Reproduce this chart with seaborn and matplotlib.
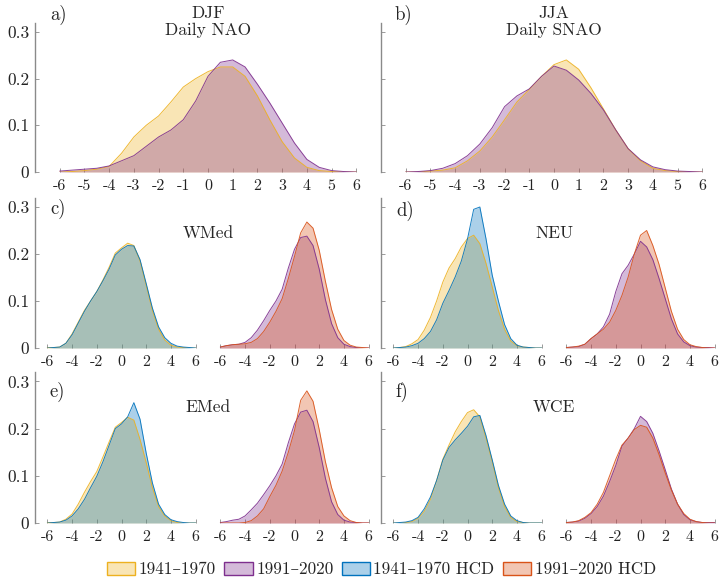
import matplotlib
matplotlib.use("Agg")
import matplotlib.pyplot as plt
import matplotlib.patches as mpatches
from matplotlib.colors import to_rgba
import seaborn as sns

sns.set_theme(style="white")
plt.rcParams["font.family"] = ["cmr10", "DejaVu Serif"]
plt.rcParams["mathtext.fontset"] = "cm"
plt.rcParams["axes.unicode_minus"] = False

# density at x = -6 ... 6 (step 0.5)
grid = [-6, -5.5, -5, -4.5, -4, -3.5, -3, -2.5, -2, -1.5, -1, -0.5, 0,
        0.5, 1, 1.5, 2, 2.5, 3, 3.5, 4, 4.5, 5, 5.5, 6]

# a) DJF daily NAO
nao_early = [0, 0.001, 0.003, 0.006, 0.012, 0.04, 0.075, 0.1, 0.12, 0.15, 0.182, 0.2, 0.215,
             0.225, 0.225, 0.205, 0.163, 0.112, 0.065, 0.03, 0.01, 0.003, 0.001, 0, 0]
nao_late = [0.002, 0.004, 0.006, 0.008, 0.013, 0.024, 0.035, 0.055, 0.075, 0.09, 0.112, 0.152, 0.205,
            0.235, 0.24, 0.225, 0.188, 0.148, 0.105, 0.062, 0.027, 0.01, 0.003, 0.001, 0]

# b) JJA daily SNAO
snao_early = [0, 0, 0.002, 0.004, 0.009, 0.024, 0.045, 0.075, 0.112, 0.15, 0.177, 0.205, 0.23,
              0.24, 0.22, 0.18, 0.135, 0.09, 0.05, 0.024, 0.008, 0.003, 0.001, 0, 0]
snao_late = [0, 0.001, 0.003, 0.008, 0.018, 0.035, 0.06, 0.095, 0.14, 0.163, 0.178, 0.205, 0.227,
             0.218, 0.197, 0.168, 0.133, 0.09, 0.05, 0.026, 0.011, 0.005, 0.002, 0.001, 0]

# c) WMed
wmed_early = [0.001, 0.001, 0.002, 0.01, 0.03, 0.055, 0.08, 0.1, 0.12, 0.145, 0.172, 0.202, 0.213,
              0.223, 0.218, 0.185, 0.133, 0.08, 0.04, 0.017, 0.006, 0.002, 0.001, 0, 0]
wmed_early_hcd = [0, 0.001, 0.002, 0.01, 0.028, 0.053, 0.078, 0.1, 0.12, 0.143, 0.168, 0.198, 0.21,
                  0.218, 0.217, 0.188, 0.137, 0.085, 0.045, 0.022, 0.01, 0.004, 0.002, 0.001, 0]
wmed_late = [0.002, 0.005, 0.007, 0.008, 0.012, 0.022, 0.038, 0.058, 0.08, 0.1, 0.125, 0.17, 0.21,
             0.235, 0.238, 0.218, 0.168, 0.103, 0.052, 0.022, 0.008, 0.003, 0.001, 0, 0]
wmed_late_hcd = [0.002, 0.005, 0.007, 0.008, 0.009, 0.012, 0.02, 0.035, 0.055, 0.078, 0.105, 0.148, 0.195,
                 0.245, 0.268, 0.255, 0.208, 0.142, 0.082, 0.04, 0.016, 0.006, 0.002, 0.001, 0]

# d) NEU
neu_early = [0, 0.001, 0.003, 0.009, 0.018, 0.038, 0.065, 0.1, 0.14, 0.17, 0.19, 0.215, 0.233,
             0.24, 0.222, 0.18, 0.13, 0.08, 0.04, 0.015, 0.005, 0.002, 0.001, 0, 0]
neu_early_hcd = [0, 0.001, 0.002, 0.005, 0.01, 0.02, 0.035, 0.06, 0.095, 0.122, 0.151, 0.185, 0.232,
                 0.295, 0.3, 0.232, 0.155, 0.1, 0.05, 0.02, 0.006, 0.002, 0.001, 0, 0]
neu_late = [0.001, 0.002, 0.003, 0.008, 0.02, 0.03, 0.045, 0.072, 0.12, 0.158, 0.176, 0.2, 0.227,
            0.215, 0.188, 0.148, 0.105, 0.062, 0.03, 0.013, 0.005, 0.002, 0.001, 0.001, 0]
neu_late_hcd = [0.001, 0.002, 0.004, 0.008, 0.02, 0.03, 0.04, 0.055, 0.08, 0.112, 0.151, 0.2, 0.24,
                0.25, 0.218, 0.178, 0.128, 0.078, 0.04, 0.018, 0.007, 0.003, 0.001, 0, 0]

# e) EMed
emed_early = [0.001, 0.001, 0.002, 0.008, 0.019, 0.04, 0.065, 0.088, 0.109, 0.14, 0.172, 0.203, 0.213,
              0.224, 0.218, 0.177, 0.128, 0.075, 0.035, 0.015, 0.005, 0.001, 0, 0, 0]
emed_early_hcd = [0, 0.001, 0.002, 0.006, 0.015, 0.03, 0.05, 0.075, 0.099, 0.13, 0.165, 0.2, 0.21,
                  0.225, 0.255, 0.22, 0.148, 0.085, 0.04, 0.018, 0.007, 0.003, 0.001, 0, 0]
emed_late = [0.001, 0.003, 0.006, 0.008, 0.015, 0.028, 0.042, 0.06, 0.079, 0.1, 0.125, 0.17, 0.21,
             0.235, 0.239, 0.215, 0.16, 0.095, 0.045, 0.018, 0.006, 0.002, 0.001, 0, 0]
emed_late_hcd = [0, 0, 0, 0, 0.001, 0.005, 0.015, 0.03, 0.056, 0.08, 0.11, 0.15, 0.196,
                 0.26, 0.28, 0.258, 0.198, 0.13, 0.075, 0.035, 0.015, 0.005, 0.001, 0, 0]

# f) WCE
wce_early = [0, 0, 0.001, 0.003, 0.01, 0.025, 0.05, 0.09, 0.135, 0.165, 0.193, 0.215, 0.234,
             0.24, 0.225, 0.18, 0.13, 0.075, 0.035, 0.012, 0.003, 0.001, 0, 0, 0]
wce_early_hcd = [0, 0.001, 0.002, 0.005, 0.012, 0.03, 0.055, 0.09, 0.133, 0.16, 0.176, 0.19, 0.205,
                 0.225, 0.228, 0.185, 0.134, 0.08, 0.04, 0.015, 0.005, 0.001, 0, 0, 0]
wce_late = [0.001, 0.002, 0.004, 0.01, 0.02, 0.035, 0.057, 0.088, 0.122, 0.163, 0.18, 0.2, 0.226,
            0.215, 0.19, 0.153, 0.113, 0.072, 0.04, 0.018, 0.007, 0.003, 0.001, 0.001, 0.001]
wce_late_hcd = [0.001, 0.002, 0.005, 0.012, 0.022, 0.04, 0.065, 0.1, 0.135, 0.165, 0.18, 0.198, 0.207,
                0.203, 0.18, 0.145, 0.106, 0.07, 0.04, 0.02, 0.008, 0.003, 0.001, 0, 0]

periods = ["1941\u20131970", "1991\u20132020", "1941\u20131970 HCD", "1991\u20132020 HCD"]
colors = ["#EDB120", "#7E2F8E", "#0072BD", "#D95319"]
ALPHA = 0.33
SHIFT = 14  # second block of each region panel sits to the right

fig = plt.figure(figsize=(7.2, 5.8), dpi=100)
W, H = 720, 580


def make_ax(left_px, zero_px, top_px):
    return fig.add_axes([left_px / W, (H - zero_px) / H, 346 / W, (zero_px - top_px) / H])


def draw(ax, vals, color, shift=0):
    xs = [g + shift for g in grid]
    ax.fill_between(xs, 0, vals, color=color, alpha=ALPHA, lw=0)
    sns.lineplot(x=xs, y=vals, color=color, lw=0.7, alpha=0.9, ax=ax)


def style(ax, show_y, double):
    ax.set_ylim(0, 0.32)
    for s in ["top", "right", "bottom"]:
        ax.spines[s].set_visible(False)
    ax.spines["left"].set_color("#8a8a8a")
    ax.spines["left"].set_linewidth(1.0)
    ax.tick_params(direction="in", length=3, color="#8a8a8a", width=0.6,
                   bottom=True, left=True, labelcolor="#222222")
    ax.tick_params(axis="x", labelsize=11.5, pad=5)
    ax.tick_params(axis="y", labelsize=12.5, pad=4)
    ax.set_yticks([0, 0.1, 0.2, 0.3])
    if show_y:
        ax.set_yticklabels(["0", "0.1", "0.2", "0.3"])
    else:
        ax.set_yticklabels([])
    if double:
        ax.set_xlim(-7, 7 + SHIFT)
        pos = [-6, -4, -2, 0, 2, 4, 6]
        ticks = pos + [p + SHIFT for p in pos]
        labels = [str(p) for p in pos] * 2
    else:
        ax.set_xlim(-7, 7)
        ticks = list(range(-6, 7))
        labels = [str(t) for t in ticks]
    ax.set_xticks(ticks)
    ax.set_xticklabels(labels)
    ax.set_xlabel("")
    ax.set_ylabel("")
    ax.grid(False)


# row 1: indices
ax_a = make_ax(35, 172, 22.6)
draw(ax_a, nao_early, colors[0])
draw(ax_a, nao_late, colors[1])
style(ax_a, True, False)
ax_a.text(0.5, 0.322, "DJF\nDaily NAO", ha="center", va="center", fontsize=12.5,
          linespacing=1.1, transform=ax_a.get_yaxis_transform(), clip_on=False)
ax_a.text(0.043, 0.336, "a)", ha="left", va="center", fontsize=13.5,
          transform=ax_a.get_yaxis_transform(), clip_on=False)

ax_b = make_ax(381, 172, 22.6)
draw(ax_b, snao_early, colors[0])
draw(ax_b, snao_late, colors[1])
style(ax_b, False, False)
ax_b.text(0.5, 0.322, "JJA\nDaily SNAO", ha="center", va="center", fontsize=12.5,
          linespacing=1.1, transform=ax_b.get_yaxis_transform(), clip_on=False)
ax_b.text(0.04, 0.336, "b)", ha="left", va="center", fontsize=13.5,
          transform=ax_b.get_yaxis_transform(), clip_on=False)

# rows 2 and 3: regions
regions = [
    ("c)", "WMed", 35, 348, 197.6, 0.296, [wmed_early, wmed_late, wmed_early_hcd, wmed_late_hcd]),
    ("d)", "NEU", 381, 348, 197.6, 0.292, [neu_early, neu_late, neu_early_hcd, neu_late_hcd]),
    ("e)", "EMed", 35, 523, 372, 0.277, [emed_early, emed_late, emed_early_hcd, emed_late_hcd]),
    ("f)", "WCE", 381, 523, 372, 0.277, [wce_early, wce_late, wce_early_hcd, wce_late_hcd]),
]

for tag, name, left, zero, top, tag_y, series in regions:
    ax = make_ax(left, zero, top)
    draw(ax, series[0], colors[0])
    draw(ax, series[2], colors[2])
    draw(ax, series[1], colors[1], SHIFT)
    draw(ax, series[3], colors[3], SHIFT)
    style(ax, left < 100, True)
    ax.text(0.5, 0.245, name, ha="center", va="center", fontsize=12.5,
            transform=ax.get_yaxis_transform())
    ax.text(0.043, tag_y, tag, ha="left", va="center", fontsize=13.5,
            transform=ax.get_yaxis_transform(), clip_on=False)

handles = [mpatches.Patch(facecolor=to_rgba(c, ALPHA), edgecolor=c, lw=1.0, label=p)
           for p, c in zip(periods, colors)]
fig.legend(handles=handles, loc="center", bbox_to_anchor=(0.53, 0.018), ncol=4,
           frameon=False, fontsize=12.3, handlelength=1.65, handleheight=0.8,
           handletextpad=0.2, columnspacing=0.5, borderaxespad=0)

fig.savefig("out.png", dpi=100)
